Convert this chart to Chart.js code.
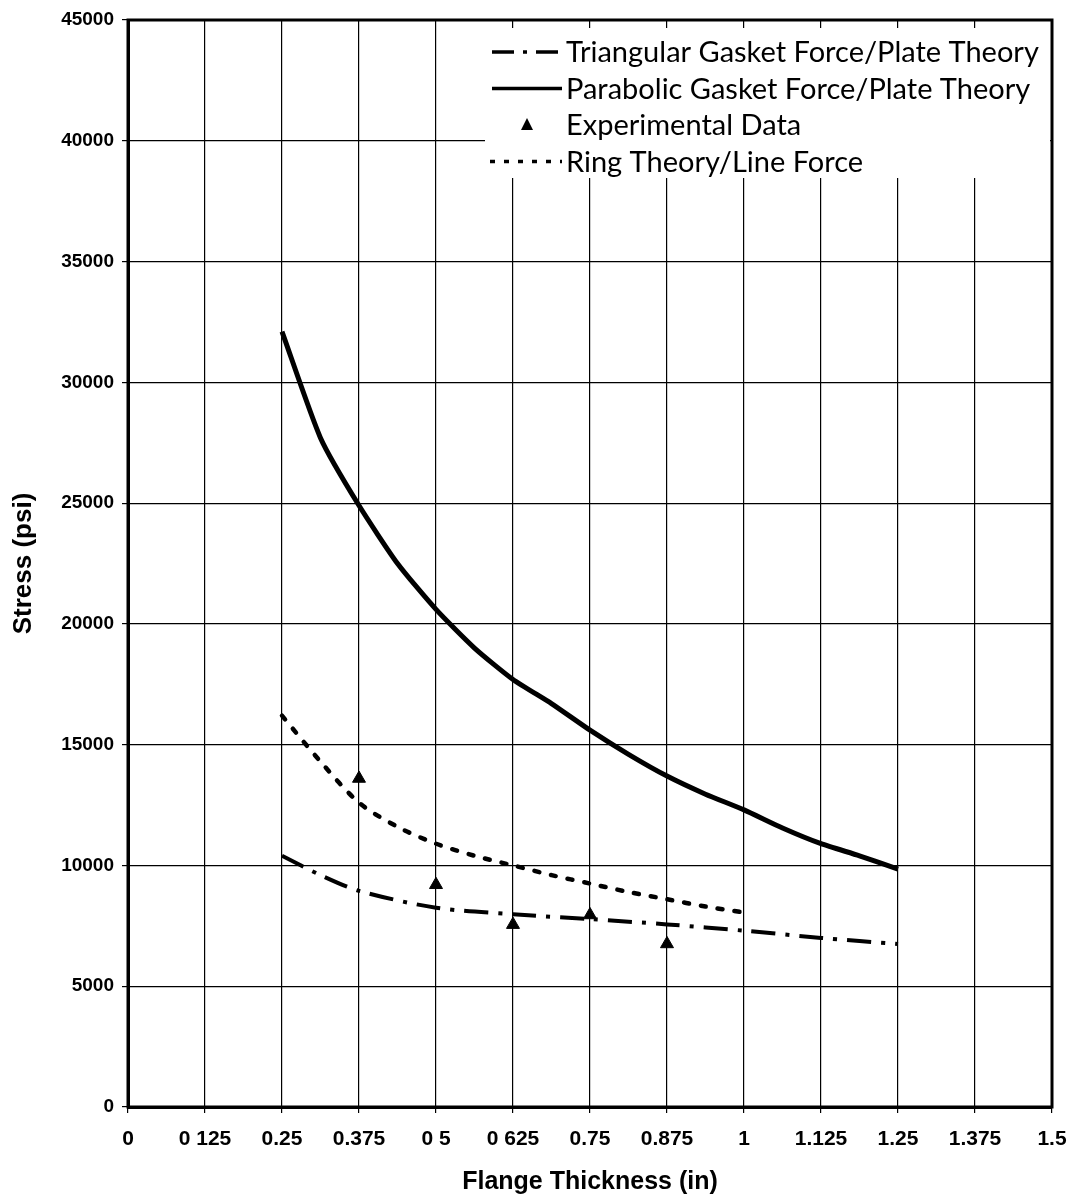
<!DOCTYPE html>
<html>
<head>
<meta charset="utf-8">
<script src="https://cdn.jsdelivr.net/npm/chart.js@4/dist/chart.umd.min.js"></script>
<style>
  html, body { margin: 0; padding: 0; background: #fff; }
  #wrap { width: 1081px; height: 1203px; }
</style>
</head>
<body>
<div id="wrap"><canvas id="stressChart" width="1081" height="1203"></canvas></div>
<script>
/* --------------- Data --------------- */
const xTickLabels = ["0", "0 125", "0.25", "0.375", "0 5", "0 625", "0.75", "0.875", "1", "1.125", "1.25", "1.375", "1.5"];

const parabolicX = [0.25, 0.3125, 0.375, 0.4375, 0.5, 0.5625, 0.625, 0.6875, 0.75, 0.8125, 0.875, 0.9375, 1.0, 1.0625, 1.125, 1.1875, 1.25];
const parabolicY = [32100, 27700, 24900, 22500, 20600, 19000, 17700, 16700, 15600, 14600, 13700, 12950, 12300, 11550, 10900, 10400, 9850];

const triangularX = [0.25, 0.3125, 0.375, 0.5, 0.625, 0.75, 0.875, 1.0, 1.125, 1.25];
const triangularY = [10400, 9600, 8950, 8250, 7980, 7780, 7560, 7300, 7000, 6750];

const ringX = [0.25, 0.3125, 0.375, 0.4375, 0.5, 0.5625, 0.625, 0.6875, 0.75, 0.8125, 0.875, 0.9375, 1.0];
const ringY = [16200, 14300, 12600, 11600, 10900, 10400, 10000, 9600, 9250, 8900, 8600, 8300, 8050];

const expX = [0.375, 0.5, 0.625, 0.75, 0.875];
const expY = [13600, 9200, 7550, 7950, 6750];

const toPoints = (xs, ys) => xs.map((x, i) => ({ x: x, y: ys[i] }));

/* --------------- Plot frame + legend box --------------- */
const framePlugin = {
  id: "frame",
  afterDraw(chart) {
    const { ctx, chartArea: a } = chart;
    ctx.save();

    // legend box, white, sits on top of the grid
    const bx = 485, by = 28, bw = a.right - 485 - 2, bh = 150;
    ctx.fillStyle = "#fff";
    ctx.fillRect(bx, by, bw, bh);

    const rows = [
      { label: "Triangular Gasket Force/Plate Theory", dash: [22, 9, 4, 9], kind: "line" },
      { label: "Parabolic Gasket Force/Plate Theory", dash: [], kind: "line" },
      { label: "Experimental Data", kind: "tri" },
      { label: "Ring Theory/Line Force", dash: [5, 9], kind: "line" },
    ];
    ctx.font = "29px Lato, 'Open Sans', sans-serif";
    ctx.textBaseline = "middle";
    ctx.fillStyle = "#000";
    rows.forEach((r, i) => {
      const y = 52 + i * 36.5;
      if (r.kind === "line") {
        ctx.beginPath();
        ctx.setLineDash(r.dash);
        ctx.lineWidth = 3.5;
        ctx.strokeStyle = "#000";
        ctx.moveTo(r.dash.length === 2 ? 490 : 492, y);
        ctx.lineTo(562, y);
        ctx.stroke();
        ctx.setLineDash([]);
      } else {
        ctx.beginPath();
        ctx.moveTo(527, y - 7);
        ctx.lineTo(533, y + 5);
        ctx.lineTo(521, y + 5);
        ctx.closePath();
        ctx.fill();
      }
      ctx.fillText(r.label, 566, y + 1);
    });

    // heavy border round the plot
    ctx.lineWidth = 3;
    ctx.strokeStyle = "#000";
    ctx.strokeRect(a.left, a.top, a.right - a.left, a.bottom - a.top);
    ctx.restore();
  },
};

/* --------------- Chart --------------- */
const xTickFont = { family: "'Liberation Sans', Arial, sans-serif", size: 21, weight: "bold" };
const yTickFont = { family: "'Liberation Sans', Arial, sans-serif", size: 19, weight: "bold" };
const xTitleFont = { family: "'Liberation Sans', Arial, sans-serif", size: 25, weight: "bold" };
const yTitleFont = { family: "'Liberation Sans', Arial, sans-serif", size: 26, weight: "bold" };

new Chart(document.getElementById("stressChart"), {
  type: "scatter",
  plugins: [framePlugin],
  data: {
    datasets: [
      {
        label: "Triangular Gasket Force/Plate Theory",
        data: toPoints(triangularX, triangularY),
        showLine: true,
        borderColor: "#000",
        borderWidth: 4,
        borderDash: [24, 10, 4, 10],
        pointRadius: 0,
        tension: 0.3,
      },
      {
        label: "Parabolic Gasket Force/Plate Theory",
        data: toPoints(parabolicX, parabolicY),
        showLine: true,
        borderColor: "#000",
        borderWidth: 5,
        pointRadius: 0,
        tension: 0.2,
      },
      {
        label: "Experimental Data",
        data: toPoints(expX, expY),
        showLine: false,
        pointStyle: "triangle",
        pointRadius: 7.5,
        backgroundColor: "#000",
        borderColor: "#000",
      },
      {
        label: "Ring Theory/Line Force",
        data: toPoints(ringX, ringY),
        showLine: true,
        borderColor: "#000",
        borderWidth: 4.5,
        borderDash: [5, 12],
        borderCapStyle: "round",
        pointRadius: 0,
        tension: 0.3,
      },
    ],
  },
  options: {
    responsive: false,
    animation: false,
    layout: { padding: { top: 20, right: 29, left: 0, bottom: 0 } },
    plugins: {
      legend: { display: false },
      tooltip: { enabled: false },
    },
    scales: {
      x: {
        type: "linear",
        min: 0,
        max: 1.5,
        afterFit: (s) => { s.height = 96; },
        ticks: {
          stepSize: 0.125,
          color: "#000",
          font: xTickFont,
          padding: 14,
          maxRotation: 0,
          autoSkip: false,
          callback: (v, i) => xTickLabels[i],
        },
        grid: { color: "#000", lineWidth: 1.2, tickLength: 6 },
        border: { color: "#000", width: 3 },
        title: {
          display: true,
          text: "Flange Thickness (in)",
          color: "#000",
          font: xTitleFont,
          padding: { top: 0, bottom: 6 },
        },
      },
      y: {
        type: "linear",
        min: 0,
        max: 45000,
        afterFit: (s) => { s.width = 128; },
        ticks: {
          stepSize: 5000,
          color: "#000",
          font: yTickFont,
          padding: 8,
          callback: (v) => String(v),
        },
        grid: { color: "#000", lineWidth: 1.2, tickLength: 6 },
        border: { color: "#000", width: 3 },
        title: {
          display: true,
          text: "Stress (psi)",
          color: "#000",
          font: yTitleFont,
          padding: { top: 8, bottom: 0 },
        },
      },
    },
  },
});
</script>
</body>
</html>
